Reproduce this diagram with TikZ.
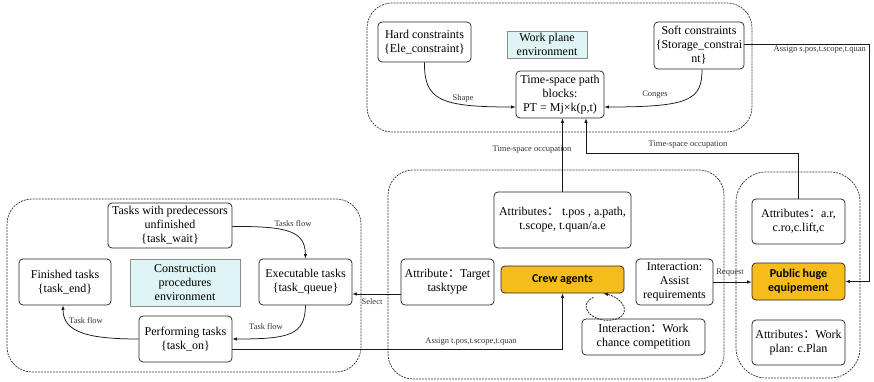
\documentclass[tikz,border=0pt]{standalone}
\usepackage{fontspec}
\setmainfont{Liberation Serif}
\newfontfamily\agentfont{Carlito}
\newfontfamily\cjk{Noto Sans CJK SC}
\usetikzlibrary{arrows.meta,calc}
\newcommand{\fcolon}{{\cjk ：}}
\definecolor{agentorange}{RGB}{246,188,28}
\definecolor{envcyan}{RGB}{223,244,244}
\tikzset{
  box/.style={draw=black!85, line width=0.75pt, rounded corners=4pt, align=center,
    inner sep=1pt, font=\fontsize{12}{14}\selectfont},
  envbox/.style={draw=black!45, line width=0.6pt, fill=envcyan, align=center,
    inner sep=1pt, font=\fontsize{12}{14}\selectfont},
  agent/.style={box, fill=agentorange, font=\fontsize{12}{14}\selectfont\agentfont\bfseries},
  grp/.style={draw=black!80, line width=0.7pt, dash pattern=on 2pt off 1pt, rounded corners=25pt},
  lbl/.style={font=\fontsize{8.5}{10}\selectfont, inner sep=1pt, text=black!80},
  arr/.style={draw=black!90, line width=0.75pt, -{Latex[length=4.5pt,width=3.5pt]}},
  loopline/.style={arr, dash pattern=on 2pt off 1pt},
}
\begin{document}
\begin{tikzpicture}[x=1pt,y=-1pt]
\useasboundingbox (0,0) rectangle (874,382);

% group frames
\draw[grp] (367,3) rectangle (752,132);
\draw[grp] (388,170) rectangle (724,379);
\draw[grp, rounded corners=30pt] (736,172) rectangle (860,378);
\draw[grp] (7,199) rectangle (361,372);

% work plane environment
\node[box, minimum width=93pt, minimum height=40pt] (hard) at (424.5,42)
  {Hard constraints\\\{Ele\_constraint\}};
\node[envbox, minimum width=80pt, minimum height=27pt] (workenv) at (547,44.5)
  {Work plane\\environment};
\node[box, minimum width=90pt, minimum height=47pt] (soft) at (699,45.5)
  {Soft constraints\\\{Storage\_constrai\\nt\}};
\node[box, minimum width=88pt, minimum height=47pt] (tsp) at (560,94.5)
  {Time-space path\\blocks:\\PT = Mj×k(p,t)};

% crew agents
\node[box, minimum width=137pt, minimum height=56pt] (attr) at (562.5,220)
  {Attributes\fcolon\ t.pos , a.path,\\t.scope, t.quan/a.e};
\node[box, minimum width=93pt, minimum height=46pt] (target) at (447.5,282)
  {Attribute\fcolon Target\\tasktype};
\node[agent, minimum width=123pt, minimum height=27pt] (crew) at (562.5,279.5)
  {Crew agents};
\node[box, minimum width=77pt, minimum height=46pt] (assist) at (674.5,282)
  {Interaction:\\Assist\\requirements};
\node[box, minimum width=123pt, minimum height=36pt] (compete) at (643.5,337)
  {Interaction\fcolon Work\\chance competition};

% public huge equipment
\node[box, minimum width=93pt, minimum height=45pt] (attrar) at (798.5,221.5)
  {Attributes\fcolon a.r,\\c.ro,c.lift,c};
\node[agent, minimum width=93pt, minimum height=37pt] (public) at (798.5,281.5)
  {Public huge\\equipement};
\node[box, minimum width=93pt, minimum height=45pt] (plan) at (798.5,342.5)
  {Attributes\fcolon Work\\plan: c.Plan};

% construction procedures
\node[box, minimum width=124pt, minimum height=45pt] (wait) at (170,225.5)
  {Tasks with predecessors\\unfinished\\\{task\_wait\}};
\node[box, minimum width=92pt, minimum height=46pt] (finished) at (65,282)
  {Finished tasks\\\{task\_end\}};
\node[envbox, minimum width=110pt, minimum height=47pt] (consenv) at (185,282.5)
  {Construction\\procedures\\environment};
\node[box, minimum width=93pt, minimum height=46pt] (exec) at (305.5,282)
  {Executable tasks\\\{task\_queue\}};
\node[box, minimum width=93pt, minimum height=46pt] (perf) at (185.5,339)
  {Performing tasks\\\{task\_on\}};

% helper points
\coordinate (bendar) at (586,153);
\coordinate (rightrail) at (869,44);

% connectors in the work plane
\draw[arr] (hard.south) .. controls (424,100) and (440,107) .. ([yshift=-12.5pt]tsp.west);
\node[lbl] (lshape) at (463,98) {Shape};
\draw[arr] ([xshift=3pt]soft.south) .. controls (702,100) and (690,107) .. ([yshift=-12.5pt]tsp.east);
\node[lbl] (lconges) at (655,95) {Conges};

% time-space occupation
\draw[arr] (attr.north) -- (attr.north |- tsp.south);
\node[lbl] (locc1) at (532,150) {Time-space occupation};
\draw[arr] (attrar.north) |- (bendar) -- (bendar |- tsp.south);
\node[lbl] (locc2) at (688,145) {Time-space occupation};

% soft constraints to equipment
\draw[arr] (soft.east |- rightrail) -- (rightrail) |- (public.east);
\node[lbl, anchor=east] (lassign2) at (867,50) {Assign s.pos,t.scope,t.quan};

% request
\draw[arr] (assist.east) -- (assist.east -| public.west);
\node[lbl] (lreq) at (730,273) {Request};

% select
\draw[arr] ([yshift=-12pt]target.west) -- ([yshift=-12pt]exec.east);
\node[lbl] (lsel) at (372,302) {Select};

% assignment to crew agents
\draw[arr] ([yshift=-10pt]perf.east) -| (crew.south);
\node[lbl] (lassign1) at (471,342) {Assign t.pos,t.scope,t.quan};

% competition loop
\draw[loopline] ([shift={(31,4)}]crew.south) .. controls (576,305) and (592,323) .. (612,320)
  .. controls (632,317) and (626,299) .. ([xshift=41pt]crew.south);

% task flows
\draw[arr] ([yshift=-1pt]wait.east) .. controls (290,226) and (305,232) .. (exec.north);
\node[lbl] (ltf1) at (293,224) {Tasks flow};
\draw[arr] (exec.south) .. controls (305,335) and (290,339) .. (perf.east);
\node[lbl] (ltf2) at (266,327) {Task flow};
\draw[arr] (perf.west) .. controls (90,339) and (63,333) .. ([xshift=-2pt]finished.south);
\node[lbl] (ltf3) at (86,321) {Task flow};
\end{tikzpicture}
\end{document}
